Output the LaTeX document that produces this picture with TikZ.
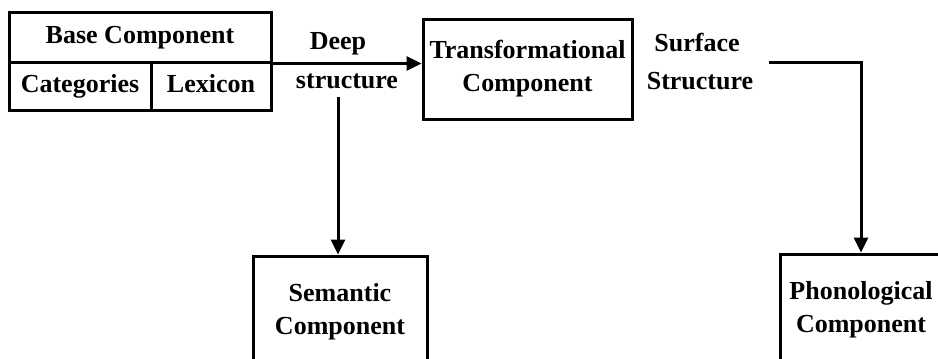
\documentclass[tikz,border=0pt]{standalone}
\usepackage{fontspec}
\setmainfont{Liberation Serif}
\usetikzlibrary{arrows.meta}
\begin{document}
\begin{tikzpicture}[x=1pt,y=-1pt,
  every node/.style={font=\fontsize{26}{33}\selectfont\bfseries, inner sep=0pt},
  box/.style={draw, line width=3pt, align=center},
  one/.style={text height=18pt, text depth=6pt},
  lbl/.style={one},
  arr/.style={line width=3pt, -{Triangle[length=15pt,width=14pt]}},
  ln/.style={line width=3pt}]
\clip (0,0) rectangle (938,359);
\useasboundingbox (0,0) rectangle (938,359);
\node[box, one, minimum width=262pt, minimum height=50pt] (base) at (140,37) {Base Component};
\node[box, one, minimum width=142pt, minimum height=48pt] (cat) at (80,86) {Categories};
\node[box, one, minimum width=120pt, minimum height=48pt] (lex) at (211,86) {Lexicon};
\node[box, minimum width=209pt, minimum height=100pt] (trans) at (527.5,69) {Transformational\\Component};
\node[box, minimum width=174pt, minimum height=112pt] (sem) at (340,312) {Semantic\\Component};
\node[box, minimum width=162pt, minimum height=112pt] (phon) at (861,310) {Phonological\\Component};
\node[lbl] (deep) at (338,43) {Deep};
\node[lbl] (struct) at (347,82) {structure};
\node[lbl] (surf) at (697,45) {Surface};
\node[lbl] (sstruct) at (700,83) {Structure};
\coordinate (dp) at (338,97);
\coordinate (sf) at (769,62);
\draw[arr] (base.south east) -- (base.south east -| trans.west);
\draw[arr] (dp) -- (dp |- sem.north);
\draw[arr] (sf) -| (phon.north);
\end{tikzpicture}
\end{document}
